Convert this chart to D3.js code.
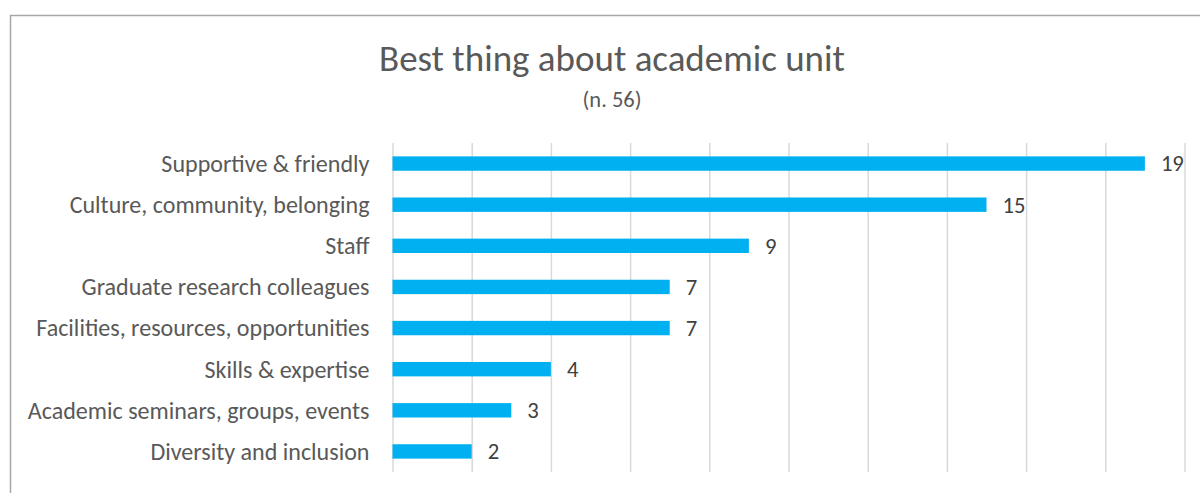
<!DOCTYPE html>
<html>
<head>
<meta charset="utf-8">
<script src="https://cdn.jsdelivr.net/npm/d3@7"></script>
<style>
  html, body { margin: 0; padding: 0; background: #fff; }
  svg { display: block; }
  text { font-family: Carlito, "Open Sans", sans-serif; }
</style>
</head>
<body>
<svg id="chart" width="1200" height="493"></svg>
<script>
const categories = [
  "Supportive & friendly",
  "Culture, community, belonging",
  "Staff",
  "Graduate research colleagues",
  "Facilities, resources, opportunities",
  "Skills & expertise",
  "Academic seminars, groups, events",
  "Diversity and inclusion"
];
const values = [19, 15, 9, 7, 7, 4, 3, 2];
const xTicks = [0, 2, 4, 6, 8, 10, 12, 14, 16, 18, 20];
const titleText = "Best thing about academic unit";
const subtitleText = "(n. 56)";

const svg = d3.select("#chart");

// chart border
svg.append("rect")
  .attr("x", 10.5).attr("y", 15.5)
  .attr("width", 1220).attr("height", 500)
  .attr("fill", "none").attr("stroke", "#a6a6a6").attr("stroke-width", 1.5);

const plot = { left: 392.5, right: 1184.5, top: 143, bottom: 472 };

const x = d3.scaleLinear().domain([0, 20]).range([plot.left, plot.right]);
const y = d3.scaleBand().domain(categories).range([plot.top, plot.bottom])
  .paddingInner(0.65).paddingOuter(0.325);

// fit a text's font size so that its width matches a target width
function fit(sel, target) {
  const w = sel.node().getComputedTextLength();
  const fs = parseFloat(sel.attr("font-size"));
  sel.attr("font-size", fs * target / w);
  return fs * target / w;
}

// gridlines via axis
const grid = svg.append("g")
  .attr("transform", `translate(0,${plot.bottom})`)
  .call(d3.axisBottom(x).tickValues(xTicks).tickSize(-(plot.bottom - plot.top)).tickFormat(""));
grid.select(".domain").remove();
grid.selectAll(".tick line").attr("stroke", "#d9d9d9").attr("stroke-width", 1.5);

// bars
svg.append("g").selectAll("rect")
  .data(values)
  .join("rect")
  .attr("x", x(0))
  .attr("y", (d, i) => y(categories[i]))
  .attr("width", d => x(d) - x(0))
  .attr("height", y.bandwidth())
  .attr("fill", "#00b0f0");

// category labels via axis
const yAxis = svg.append("g")
  .attr("transform", `translate(${plot.left},0)`)
  .call(d3.axisLeft(y).tickSize(0).tickPadding(23));
yAxis.select(".domain").remove();
yAxis.selectAll("text")
  .attr("fill", "#595959")
  .attr("font-size", 24)
  .attr("font-family", 'Carlito, "Open Sans", sans-serif')
  .attr("dy", "0.35em");
{
  const longest = yAxis.selectAll("text").filter(d => d === "Culture, community, belonging");
  const fs = fit(longest, 300);
  yAxis.selectAll("text").attr("font-size", fs);
}

// value labels
const vl = svg.append("g").selectAll("text")
  .data(values)
  .join("text")
  .attr("x", d => x(d) + 16)
  .attr("y", (d, i) => y(categories[i]) + y.bandwidth() / 2)
  .attr("dy", "0.35em")
  .attr("fill", "#404040")
  .attr("font-size", 23)
  .text(d => d);
{
  const first = vl.filter((d, i) => i === 0);
  const fs = fit(first, 23);
  vl.attr("font-size", fs);
}

// title
const t = svg.append("text")
  .attr("x", 612).attr("y", 71)
  .attr("text-anchor", "middle")
  .attr("fill", "#595959")
  .attr("font-size", 37)
  .text(titleText);
fit(t, 466);

const st = svg.append("text")
  .attr("x", 612).attr("y", 107)
  .attr("text-anchor", "middle")
  .attr("fill", "#595959")
  .attr("font-size", 19)
  .text(subtitleText);
fit(st, 59);
</script>
</body>
</html>
